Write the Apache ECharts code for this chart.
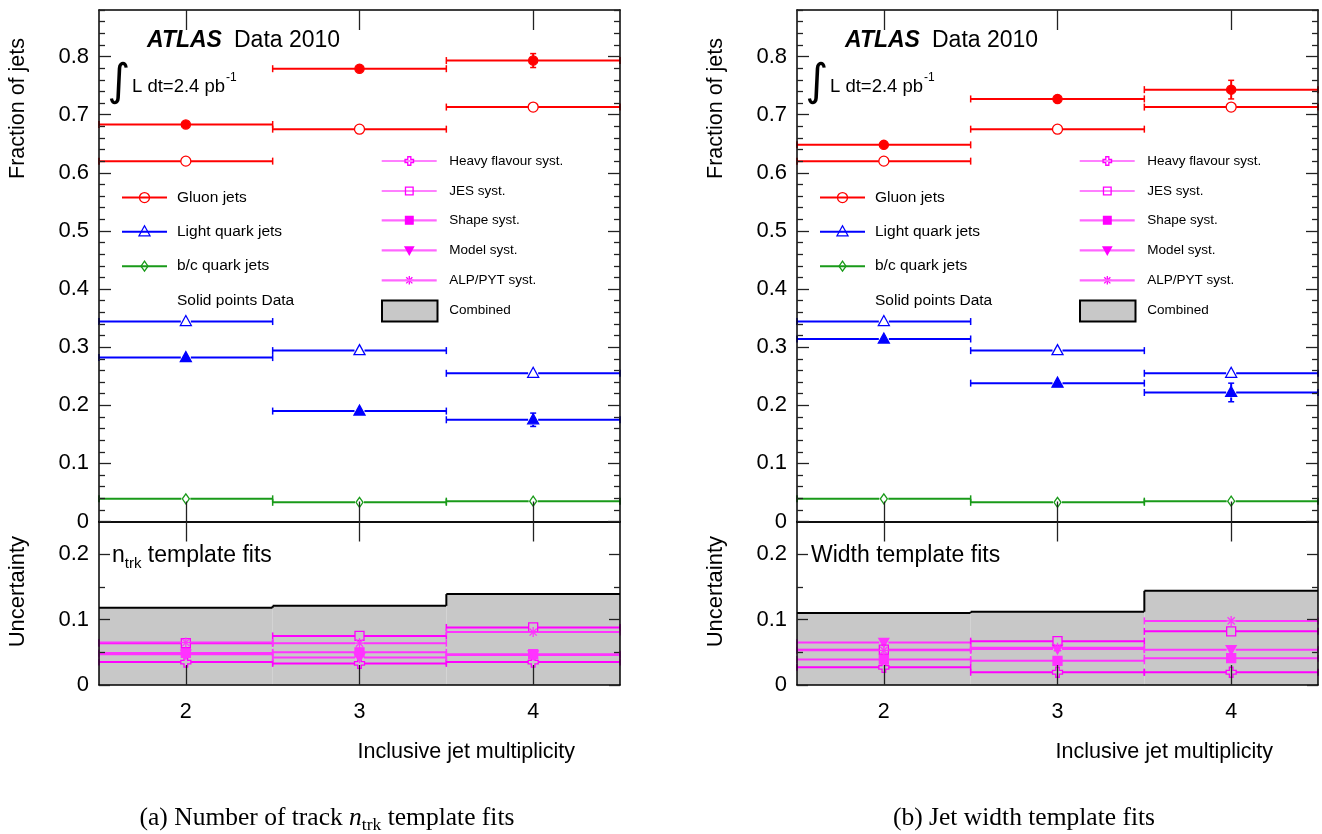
<!DOCTYPE html>
<html><head><meta charset="utf-8">
<script src="https://cdn.jsdelivr.net/npm/echarts@6/dist/echarts.min.js"></script>
<style>html,body{margin:0;padding:0;background:#fff}#c{width:1322px;height:834px}</style>
</head><body><div id="c"></div>
<script>
// ---------- data ----------
const bins = [2, 3, 4];
const xTickLabels = ['2', '3', '4'];
const yTicksTop = [0, 0.1, 0.2, 0.3, 0.4, 0.5, 0.6, 0.7, 0.8];
const yTopLabels = ['0', '0.1', '0.2', '0.3', '0.4', '0.5', '0.6', '0.7', '0.8'];
const yTicksBottom = [0, 0.1, 0.2];
const yBotLabels = ['0', '0.1', '0.2'];

// (a) n_trk template fits
const a_gluonMC = [0.620, 0.675, 0.713];
const a_gluonData = [0.683, 0.779, 0.793];
const a_gluonDataErr = [0, 0, 0.012];
const a_lightMC = [0.344, 0.294, 0.255];
const a_lightData = [0.282, 0.190, 0.175];
const a_lightDataErr = [0, 0, 0.0115];
const a_bcMC = [0.039, 0.033, 0.035];
const a_hf = [0.035, 0.033, 0.035];
const a_jes = [0.064, 0.075, 0.088];
const a_shape = [0.049, 0.050, 0.047];
const a_model = [0.047, 0.042, 0.046];
const a_alp = [0.065, 0.064, 0.081];
const a_combined = [0.118, 0.121, 0.139];

// (b) width template fits
const b_gluonMC = [0.620, 0.675, 0.713];
const b_gluonData = [0.648, 0.727, 0.743];
const b_gluonDataErr = [0, 0, 0.016];
const b_lightMC = [0.344, 0.294, 0.255];
const b_lightData = [0.314, 0.238, 0.222];
const b_lightDataErr = [0, 0, 0.016];
const b_bcMC = [0.039, 0.033, 0.035];
const b_hf = [0.027, 0.0195, 0.0195];
const b_jes = [0.054, 0.067, 0.082];
const b_shape = [0.039, 0.037, 0.041];
const b_model = [0.065, 0.055, 0.054];
const b_alp = [0.053, 0.057, 0.098];
const b_combined = [0.110, 0.112, 0.144];

// ---------- style ----------
const SANS = '"Liberation Sans", Arial, Helvetica, sans-serif';
const SERIF = '"Liberation Serif", "Times New Roman", serif';
const RED = '#ff0000', BLUE = '#0000ff', GREEN = '#199a19';
const MAG = '#ff00ff', MAG2 = '#ff33ff', MAGL = '#ff66ff';

const minorTop = [];
for (let k = 1; k <= 44; k++) { if (k % 5 !== 0) minorTop.push(k / 50); }
const minorBot = [0.05, 0.15];

const mctx = document.createElement('canvas').getContext('2d');
function fontStr(o) { return (o.fontStyle || 'normal') + ' ' + (o.fontWeight || 'normal') + ' ' + o.fontSize + 'px ' + o.fontFamily; }
function tw(o, t) { mctx.font = fontStr(o); return mctx.measureText(t).width; }

const MK_R = { openCircle: 5, fullCircle: 4.5, openTri: 5, fullTri: 5, openDiamond: 4.5, openCross: 5, openSquare: 4.5, fullSquare: 4.5, fullInvTri: 4.5, star: 4.5 };

function marker(type, cx, cy, color, s) {
  s = s || 1;
  const st = (fill) => ({ fill: fill ? color : 'none', stroke: color, lineWidth: 1.3 });
  switch (type) {
    case 'openCircle': return { type: 'circle', shape: { cx, cy, r: 5 * s }, style: st(false) };
    case 'fullCircle': return { type: 'circle', shape: { cx, cy, r: 4.6 * s }, style: st(true) };
    case 'openTri': return { type: 'polygon', shape: { points: [[cx, cy - 6 * s], [cx + 5.5 * s, cy + 4 * s], [cx - 5.5 * s, cy + 4 * s]] }, style: st(false) };
    case 'fullTri': return { type: 'polygon', shape: { points: [[cx, cy - 6 * s], [cx + 5.5 * s, cy + 4 * s], [cx - 5.5 * s, cy + 4 * s]] }, style: st(true) };
    case 'fullInvTri': return { type: 'polygon', shape: { points: [[cx - 5 * s, cy - 4 * s], [cx + 5 * s, cy - 4 * s], [cx, cy + 5 * s]] }, style: st(true) };
    case 'openDiamond': return { type: 'polygon', shape: { points: [[cx, cy - 5 * s], [cx + 3.5 * s, cy], [cx, cy + 5 * s], [cx - 3.5 * s, cy]] }, style: st(false) };
    case 'openSquare': return { type: 'rect', shape: { x: cx - 4.5 * s, y: cy - 4.5 * s, width: 9 * s, height: 9 * s }, style: st(false) };
    case 'fullSquare': return { type: 'rect', shape: { x: cx - 4.5 * s, y: cy - 4.5 * s, width: 9 * s, height: 9 * s }, style: st(true) };
    case 'openCross': {
      const w = 1.8 * s, L = 5 * s;
      return { type: 'polygon', shape: { points: [[cx - w, cy - L], [cx + w, cy - L], [cx + w, cy - w], [cx + L, cy - w], [cx + L, cy + w], [cx + w, cy + w], [cx + w, cy + L], [cx - w, cy + L], [cx - w, cy + w], [cx - L, cy + w], [cx - L, cy - w], [cx - w, cy - w]] }, style: st(false) };
    }
    case 'star': {
      const L = 5 * s, d = 3.6 * s, ls = { stroke: color, lineWidth: 1.3 };
      return { type: 'group', children: [
        { type: 'line', shape: { x1: cx, y1: cy - L, x2: cx, y2: cy + L }, style: ls },
        { type: 'line', shape: { x1: cx - d, y1: cy - d, x2: cx + d, y2: cy + d }, style: ls },
        { type: 'line', shape: { x1: cx - d, y1: cy + d, x2: cx + d, y2: cy - d }, style: ls },
        { type: 'line', shape: { x1: cx - L, y1: cy, x2: cx + L, y2: cy }, style: ls }
      ] };
    }
  }
}

function histSeries(vals, errs, mk, color, lw, xi, yi, z) {
  const r = MK_R[mk] || 5;
  return {
    type: 'custom', xAxisIndex: xi, yAxisIndex: yi, z: z, silent: true, clip: false,
    encode: { x: 0, y: 1 },
    data: bins.map((b, i) => [b, vals[i], errs ? errs[i] : 0]),
    renderItem(params, api) {
      const x = api.value(0), y = api.value(1), e = api.value(2);
      const L = api.coord([x - 0.5, y]), R = api.coord([x + 0.5, y]), C = api.coord([x, y]);
      const st = { stroke: color, lineWidth: lw };
      const cs = { stroke: color, lineWidth: 1.5 };
      const ch = [
        { type: 'line', shape: { x1: L[0], y1: L[1], x2: C[0] - r, y2: C[1] }, style: st },
        { type: 'line', shape: { x1: C[0] + r, y1: C[1], x2: R[0], y2: R[1] }, style: st },
        { type: 'line', shape: { x1: L[0], y1: L[1] - 3.5, x2: L[0], y2: L[1] + 3.5 }, style: cs },
        { type: 'line', shape: { x1: R[0], y1: R[1] - 3.5, x2: R[0], y2: R[1] + 3.5 }, style: cs }
      ];
      if (e > 0) {
        const T = api.coord([x, y + e]), B = api.coord([x, y - e]);
        ch.push({ type: 'line', shape: { x1: T[0], y1: T[1], x2: C[0], y2: C[1] - r }, style: st });
        ch.push({ type: 'line', shape: { x1: C[0], y1: C[1] + r, x2: B[0], y2: B[1] }, style: st });
        ch.push({ type: 'line', shape: { x1: T[0] - 3, y1: T[1], x2: T[0] + 3, y2: T[1] }, style: cs });
        ch.push({ type: 'line', shape: { x1: B[0] - 3, y1: B[1], x2: B[0] + 3, y2: B[1] }, style: cs });
      }
      ch.push(marker(mk, C[0], C[1], color));
      return { type: 'group', children: ch };
    }
  };
}

function combinedSeries(vals, xi, yi) {
  return {
    type: 'custom', xAxisIndex: xi, yAxisIndex: yi, z: 1, silent: true, clip: false,
    encode: { x: 0, y: 1 },
    data: bins.map((b, i) => [b, vals[i]]),
    renderItem(params, api) {
      const x = api.value(0), v = api.value(1);
      const A = api.coord([x - 0.5, 0]), B = api.coord([x + 0.5, v]);
      const ls = { stroke: '#000', lineWidth: 2 };
      const ch = [
        { type: 'rect', shape: { x: A[0], y: B[1], width: B[0] - A[0], height: A[1] - B[1] }, style: { fill: '#c8c8c8' } },
        { type: 'line', shape: { x1: A[0], y1: B[1], x2: B[0], y2: B[1] }, style: ls }
      ];
      const i = params.dataIndex;
      if (i > 0) {
        const P = api.coord([x - 0.5, vals[i - 1]]);
        ch.push({ type: 'line', shape: { x1: P[0], y1: P[1], x2: P[0], y2: B[1] }, style: ls });
      }
      return { type: 'group', children: ch };
    }
  };
}

// ---------- layout ----------
const TOP = 10, TOP_H = 511.5, BOT_H = 163.5, W = 521;
const PANELS = [
  { left: 99, dx: 0, gluonMC: a_gluonMC, gluonData: a_gluonData, gluonErr: a_gluonDataErr, lightMC: a_lightMC, lightData: a_lightData, lightErr: a_lightDataErr, bc: a_bcMC,
    hf: a_hf, jes: a_jes, shape: a_shape, model: a_model, alp: a_alp, comb: a_combined, fit: 'ntrk',
    caption: [{ t: '(a) Number of track ' }, { t: 'n', fontStyle: 'italic' }, { t: 'trk', sub: true }, { t: ' template fits' }], capCx: 327 },
  { left: 797, dx: 698, gluonMC: b_gluonMC, gluonData: b_gluonData, gluonErr: b_gluonDataErr, lightMC: b_lightMC, lightData: b_lightData, lightErr: b_lightDataErr, bc: b_bcMC,
    hf: b_hf, jes: b_jes, shape: b_shape, model: b_model, alp: b_alp, comb: b_combined, fit: 'width',
    caption: [{ t: '(b) Jet width template fits' }], capCx: 1024 }
];

const grids = [], xAxes = [], yAxes = [], series = [], graphics = [];
const axLine = { show: true, onZero: false, lineStyle: { color: '#000', width: 1.5 } };
const tickLS = { color: '#222', width: 1.3 };

function addX(g, showLabels) {
  const base = { type: 'value', gridIndex: g, min: 1.5, max: 4.5, splitLine: { show: false }, z: 5, silent: true, axisLine: axLine };
  xAxes.push(Object.assign({}, base, {
    position: 'bottom',
    axisTick: { show: true, inside: true, length: 20, customValues: bins, lineStyle: tickLS },
    axisLabel: { show: showLabels, customValues: bins, formatter: v => xTickLabels[bins.indexOf(v)], fontSize: 21.5, fontFamily: SANS, color: '#000', margin: 16 }
  }));
  xAxes.push(Object.assign({}, base, {
    position: 'top',
    axisTick: { show: true, inside: true, length: 20, customValues: bins, lineStyle: tickLS },
    axisLabel: { show: false }
  }));
}
function addY(g, max, majors, labels, minors, majLen, minLen) {
  const base = { type: 'value', gridIndex: g, min: 0, max: max, splitLine: { show: false }, z: 5, silent: true };
  yAxes.push(Object.assign({}, base, { position: 'left', axisLine: axLine,
    axisTick: { show: true, inside: true, length: majLen, customValues: majors, lineStyle: tickLS },
    axisLabel: { show: true, customValues: majors, formatter: v => labels[majors.indexOf(v)], fontSize: 22, fontFamily: SANS, color: '#000', margin: 10 } }));
  yAxes.push(Object.assign({}, base, { position: 'left', axisLine: { show: false },
    axisTick: { show: true, inside: true, length: minLen, customValues: minors, lineStyle: tickLS }, axisLabel: { show: false } }));
  yAxes.push(Object.assign({}, base, { position: 'right', axisLine: axLine,
    axisTick: { show: true, inside: true, length: majLen, customValues: majors, lineStyle: tickLS }, axisLabel: { show: false } }));
  yAxes.push(Object.assign({}, base, { position: 'right', axisLine: { show: false },
    axisTick: { show: true, inside: true, length: minLen, customValues: minors, lineStyle: tickLS }, axisLabel: { show: false } }));
}

function txt(x, y, text, o) {
  return Object.assign({ type: 'text', x: x, y: y, silent: true, z: 20,
    style: Object.assign({ text: text, fill: '#000', fontFamily: SANS, fontSize: 15, align: 'left', verticalAlign: 'middle' }, o || {}) });
}
function pieces(list, x0, y, base, subBase, center) {
  let total = 0;
  const ws = list.map(p => { const o = Object.assign({}, p.sub ? subBase : base, p.fontStyle ? { fontStyle: p.fontStyle } : {}); const w = tw(o, p.t); total += w; return { o, w, p }; });
  let x = center ? x0 - total / 2 : x0;
  ws.forEach(({ o, w, p }) => {
    graphics.push(txt(x, y + (p.sub ? (p.dy || 0.3 * base.fontSize) : 0), p.t, o));
    x += w;
  });
}

PANELS.forEach((P, p) => {
  const gT = 2 * p, gB = 2 * p + 1;
  grids.push({ left: P.left, top: TOP, width: W, height: TOP_H, outerBoundsMode: 'none', containLabel: false });
  grids.push({ left: P.left, top: TOP + TOP_H, width: W, height: BOT_H, outerBoundsMode: 'none', containLabel: false });
  addX(gT, false); addX(gB, true);
  addY(gT, 0.88, yTicksTop, yTopLabels, minorTop, 12, 6);
  addY(gB, 0.25, yTicksBottom, yBotLabels, minorBot, 11, 6);
  const xT = 2 * gT, yT = 4 * gT, xB = 2 * gB, yB = 4 * gB;

  series.push(histSeries(P.bc, null, 'openDiamond', GREEN, 2, xT, yT, 3));
  series.push(histSeries(P.lightMC, null, 'openTri', BLUE, 2, xT, yT, 3));
  series.push(histSeries(P.lightData, P.lightErr, 'fullTri', BLUE, 2, xT, yT, 3));
  series.push(histSeries(P.gluonMC, null, 'openCircle', RED, 2, xT, yT, 3));
  series.push(histSeries(P.gluonData, P.gluonErr, 'fullCircle', RED, 2, xT, yT, 3));

  series.push(combinedSeries(P.comb, xB, yB));
  series.push(histSeries(P.hf, null, 'openCross', MAG, 2, xB, yB, 3));
  series.push(histSeries(P.shape, null, 'fullSquare', MAG2, 2, xB, yB, 3));
  series.push(histSeries(P.model, null, 'fullInvTri', MAG2, 2, xB, yB, 3));
  series.push(histSeries(P.jes, null, 'openSquare', MAG, 2, xB, yB, 3));
  series.push(histSeries(P.alp, null, 'star', MAG2, 2, xB, yB, 3));

  const dx = P.dx;
  // ATLAS label
  graphics.push(txt(147 + dx, 41, 'ATLAS', { fontSize: 23, fontWeight: 'bold', fontStyle: 'italic' }));
  graphics.push(txt(234 + dx, 41, 'Data 2010', { fontSize: 23 }));
  graphics.push(txt(119 + dx, 84, '\u222B', { fontSize: 44, fontFamily: '"DejaVu Sans"', align: 'center' }));
  graphics.push(txt(132 + dx, 87, 'L dt=2.4 pb', { fontSize: 18.5 }));
  graphics.push(txt(226 + dx, 78, '-1', { fontSize: 12 }));

  // left legend
  const leftLeg = [
    { y: 197.6, mk: 'openCircle', c: RED, t: 'Gluon jets' },
    { y: 231.8, mk: 'openTri', c: BLUE, t: 'Light quark jets' },
    { y: 266.2, mk: 'openDiamond', c: GREEN, t: 'b/c quark jets' }
  ];
  leftLeg.forEach(L => {
    graphics.push({ type: 'line', z: 20, shape: { x1: 122 + dx, y1: L.y, x2: 167 + dx, y2: L.y }, style: { stroke: L.c, lineWidth: 2 } });
    graphics.push(Object.assign(marker(L.mk, 144.5 + dx, L.y, L.c), { z: 21 }));
    graphics.push(txt(177 + dx, L.y, L.t, { fontSize: 15.5 }));
  });
  graphics.push(txt(177 + dx, 300.3, 'Solid points Data', { fontSize: 15.5 }));

  // right legend
  const rightLeg = [
    { y: 161, mk: 'openCross', c: MAG, lw: 1.2, t: 'Heavy flavour syst.' },
    { y: 191, mk: 'openSquare', c: MAG, lw: 1.2, t: 'JES syst.' },
    { y: 220.3, mk: 'fullSquare', c: MAGL, lw: 2.2, t: 'Shape syst.', mc: MAG },
    { y: 250.3, mk: 'fullInvTri', c: MAGL, lw: 2.2, t: 'Model syst.', mc: MAG },
    { y: 280.3, mk: 'star', c: MAGL, lw: 2.2, t: 'ALP/PYT syst.', mc: MAG }
  ];
  rightLeg.forEach(L => {
    graphics.push({ type: 'line', z: 20, shape: { x1: 381.7 + dx, y1: L.y, x2: 436.7 + dx, y2: L.y }, style: { stroke: L.c, lineWidth: L.lw } });
    graphics.push(Object.assign(marker(L.mk, 409.3 + dx, L.y, L.mc || L.c, 0.85), { z: 21 }));
    graphics.push(txt(449.3 + dx, L.y, L.t, { fontSize: 13.5 }));
  });
  graphics.push({ type: 'rect', z: 20, shape: { x: 382 + dx, y: 300.5, width: 55.5, height: 21 }, style: { fill: '#c8c8c8', stroke: '#000', lineWidth: 2 } });
  graphics.push(txt(449.3 + dx, 310.7, 'Combined', { fontSize: 13.5 }));

  // fit label in lower pad
  if (P.fit === 'ntrk') {
    pieces([{ t: 'n' }, { t: 'trk', sub: true, dy: 8 }, { t: ' template fits' }], 112 + dx, 556, { fontSize: 23, fontFamily: SANS }, { fontSize: 15, fontFamily: SANS }, false);
  } else {
    graphics.push(txt(811, 556, 'Width template fits', { fontSize: 23 }));
  }

  // axis titles
  graphics.push({ type: 'text', x: 18 + dx, y: 38, rotation: Math.PI / 2, silent: true, z: 20,
    style: { text: 'Fraction of jets', fill: '#000', fontFamily: SANS, fontSize: 21.5, align: 'right', verticalAlign: 'middle' } });
  graphics.push({ type: 'text', x: 18 + dx, y: 536, rotation: Math.PI / 2, silent: true, z: 20,
    style: { text: 'Uncertainty', fill: '#000', fontFamily: SANS, fontSize: 22, align: 'right', verticalAlign: 'middle' } });
  graphics.push(txt(575 + dx, 752, 'Inclusive jet multiplicity', { fontSize: 21.5, align: 'right' }));

  // caption
  pieces(P.caption, P.capCx, 818, { fontSize: 25.5, fontFamily: SERIF }, { fontSize: 17.5, fontFamily: SERIF }, true);
});

const chart = echarts.init(document.getElementById('c'), null, { renderer: 'canvas', width: 1322, height: 834 });
chart.setOption({
  animation: false,
  backgroundColor: '#fff',
  grid: grids,
  xAxis: xAxes,
  yAxis: yAxes,
  series: series,
  graphic: { elements: graphics }
});
</script>
</body></html>
